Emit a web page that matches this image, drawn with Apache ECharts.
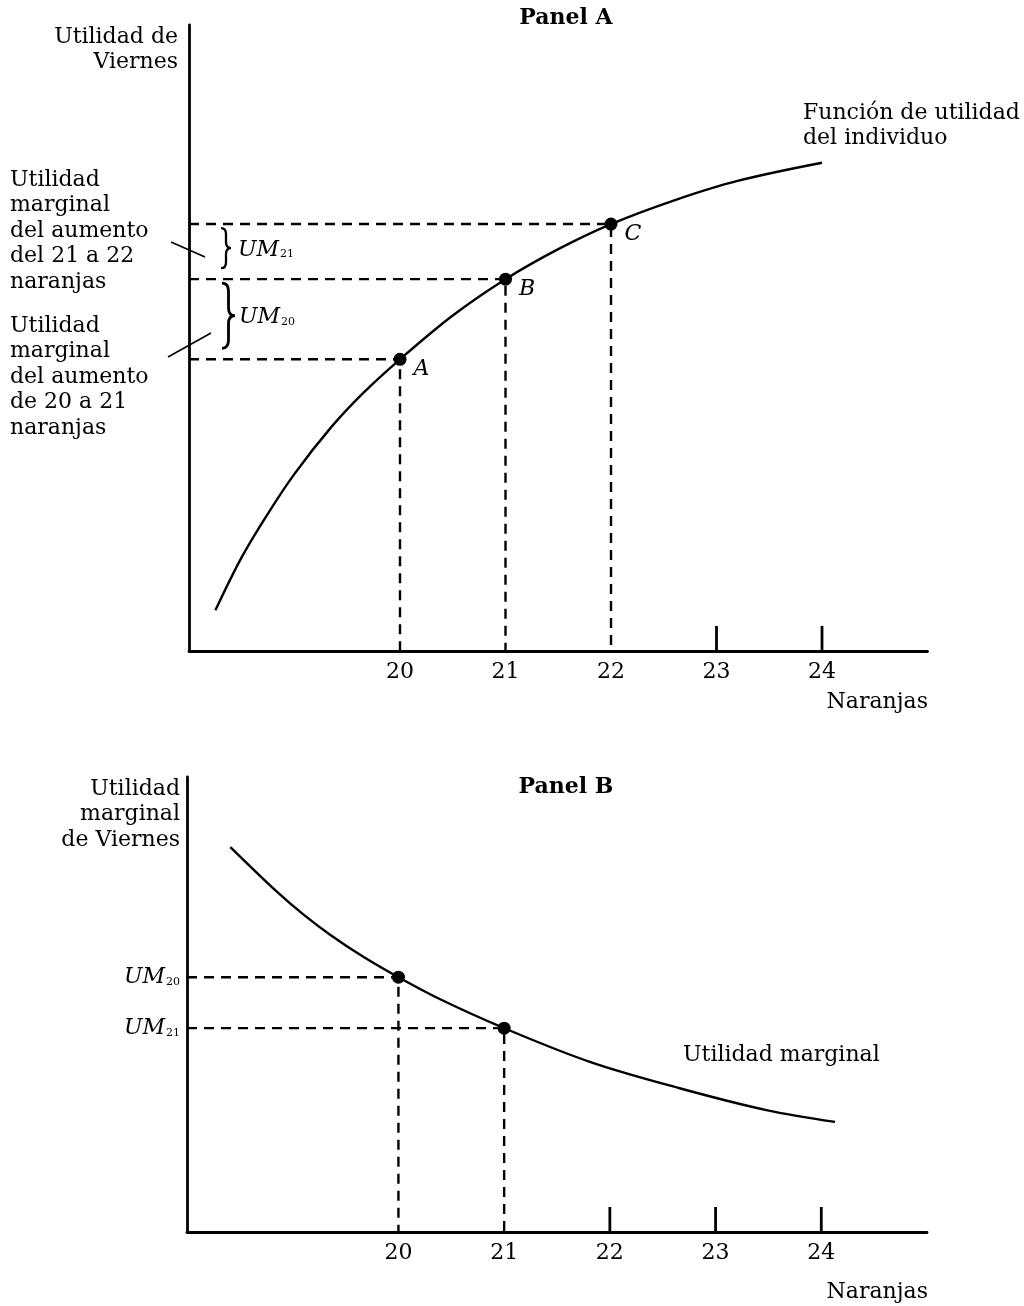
<!DOCTYPE html>
<html>
<head>
<meta charset="utf-8">
<script src="https://cdn.jsdelivr.net/npm/echarts@6/dist/echarts.min.js"></script>
<style>
html,body{margin:0;padding:0;background:#fff;}
#c{width:1024px;height:1306px;}
</style>
</head>
<body>
<div id="c"></div>
<script>
// ---- data ----
const tickLabels = ['20', '21', '22', '23', '24'];
const curveAX = [18.25, 18.5, 18.75, 19.0, 19.35, 19.65, 20, 20.5, 21, 21.5, 22, 22.6, 23.2, 24];
const curveAY = [6.5, 15.0, 22.0, 28.3, 35.8, 41.2, 46.6, 53.6, 59.4, 64.2, 68.2, 72.0, 75.1, 78.0];
const pointsAX = [20, 21, 22];
const pointsAY = [46.6, 59.4, 68.2];
const pointsANames = ['A', 'B', 'C'];
const solidTicksA = [23, 24];
const braceSubs = ['20', '21'];

const curveBX = [18.41, 18.85, 19.10, 19.35, 19.66, 20, 20.39, 21, 21.81, 22.66, 23.48, 24.13];
const curveBY = [42.3, 37.4, 34.9, 32.7, 30.3, 28.0, 25.6, 22.4, 18.7, 15.8, 13.4, 12.1];
const pointsBX = [20, 21];
const pointsBY = [28.0, 22.4];
const pointsBSubs = ['20', '21'];
const solidTicksB = [22, 23, 24];

// ---- styles ----
const FONT = '"DejaVu Serif", "Liberation Serif", serif';
const FS = 22;
const INK = '#000';

const chart = echarts.init(document.getElementById('c'), null, {renderer: 'canvas'});

function zip(xs, ys) { return xs.map((x, i) => [x, ys[i]]); }

function xAxisFor(gi) {
  return {
    type: 'value', gridIndex: gi, min: 18, max: 25, interval: 1,
    axisLine: {show: true, lineStyle: {color: INK, width: 2.8}},
    axisTick: {show: false}, splitLine: {show: false},
    axisLabel: {
      margin: 10, color: INK, fontFamily: FONT, fontSize: FS,
      formatter: v => tickLabels.indexOf(String(v)) >= 0 ? String(v) : ''
    }
  };
}
function yAxisFor(gi, max) {
  return {
    type: 'value', gridIndex: gi, min: 0, max: max,
    axisLine: {show: true, lineStyle: {color: INK, width: 2.8}},
    axisTick: {show: false}, splitLine: {show: false}, axisLabel: {show: false}
  };
}
function guideSeries(gi, x, y) {
  return {
    type: 'line', xAxisIndex: gi, yAxisIndex: gi, silent: true,
    data: [[18, y], [x, y], [x, 0]], showSymbol: false, animation: false,
    lineStyle: {color: INK, width: 2.4, type: [10, 7]}, z: 2
  };
}
function tickSeries(gi, vals) {
  return {
    type: 'custom', xAxisIndex: gi, yAxisIndex: gi, silent: true, animation: false,
    data: vals.map(v => [v, 0]),
    renderItem: (p, api) => {
      const pt = api.coord([api.value(0), 0]);
      return {type: 'line', shape: {x1: pt[0], y1: pt[1], x2: pt[0], y2: pt[1] - 25},
              style: {stroke: INK, lineWidth: 2.8}};
    }
  };
}
function bracePath(x, y1, y2, w) {
  const h = y2 - y1, m = (y1 + y2) / 2, hx = x + w * 0.5, c = Math.min(8, h * 0.15);
  return 'M' + x + ',' + y1 +
    ' Q' + hx + ',' + y1 + ' ' + hx + ',' + (y1 + c) +
    ' L' + hx + ',' + (m - c) +
    ' Q' + hx + ',' + m + ' ' + (x + w) + ',' + m +
    ' Q' + hx + ',' + m + ' ' + hx + ',' + (m + c) +
    ' L' + hx + ',' + (y2 - c) +
    ' Q' + hx + ',' + y2 + ' ' + x + ',' + y2;
}
const umRich = {
  a: {fontFamily: FONT, fontStyle: 'italic', fontSize: FS, fill: INK},
  b: {fontFamily: FONT, fontSize: 11, fill: INK, padding: [9, 0, 0, 1]}
};

const series = [];
pointsAX.forEach((x, i) => series.push(guideSeries(0, x, pointsAY[i])));
pointsBX.forEach((x, i) => series.push(guideSeries(1, x, pointsBY[i])));
series.push({
  type: 'line', xAxisIndex: 0, yAxisIndex: 0, data: zip(curveAX, curveAY), smooth: 0.35,
  showSymbol: false, animation: false, lineStyle: {color: INK, width: 2.4}, z: 3
});
series.push({
  type: 'line', xAxisIndex: 1, yAxisIndex: 1, data: zip(curveBX, curveBY), smooth: 0.35,
  showSymbol: false, animation: false, lineStyle: {color: INK, width: 2.4}, z: 3
});
series.push({
  type: 'scatter', xAxisIndex: 0, yAxisIndex: 0, symbolSize: 13, animation: false,
  itemStyle: {color: INK, opacity: 1}, z: 4,
  data: pointsAX.map((x, i) => ({value: [x, pointsAY[i]], name: pointsANames[i]})),
  label: {show: true, position: 'right', distance: 4, offset: [3, 10], formatter: p => p.name,
          fontFamily: FONT, fontStyle: 'italic', fontSize: FS, color: INK, opacity: 1}
});
series.push({
  type: 'scatter', xAxisIndex: 1, yAxisIndex: 1, symbolSize: 13, animation: false,
  itemStyle: {color: INK, opacity: 1}, z: 4, data: zip(pointsBX, pointsBY)
});
series.push(tickSeries(0, solidTicksA));
series.push(tickSeries(1, solidTicksB));
// braces with UM labels between successive utility levels (A-B and B-C)
series.push({
  type: 'custom', xAxisIndex: 0, yAxisIndex: 0, silent: true, animation: false, z: 5,
  data: braceSubs.map((s, i) => [pointsAY[i], pointsAY[i + 1], i]),
  renderItem: (p, api) => {
    const lo = api.coord([18, api.value(0)]);
    const hi = api.coord([18, api.value(1)]);
    const i = api.value(2);
    const big = (lo[1] - hi[1]) > 60;
    const x0 = lo[0] + (big ? 33 : 32);
    const w = big ? 13 : 10;
    const y1 = hi[1] + 4, y2 = lo[1] - 11;
    return {
      type: 'group',
      children: [
        {type: 'path', shape: {pathData: bracePath(x0, y1, y2, w)},
         style: {stroke: INK, lineWidth: big ? 2.8 : 2.3, fill: null}},
        {type: 'text', style: {
          text: '{a|UM}{b|' + braceSubs[i] + '}', x: x0 + 17, y: (y1 + y2) / 2 + 2,
          textAlign: 'left', textVerticalAlign: 'middle', rich: umRich
        }}
      ]
    };
  }
});

chart.setOption({
  backgroundColor: '#fff',
  animation: false,
  grid: [
    {left: 189, top: 25, width: 738.5, height: 626},
    {left: 187, top: 777, width: 740, height: 455}
  ],
  xAxis: [xAxisFor(0), xAxisFor(1)],
  yAxis: [yAxisFor(0, 100), yAxisFor(1, 50)],
  series: series
});

// ---- annotations ----
function txt(text, x, y, align, font) {
  return {
    type: 'text', z: 10, silent: true,
    style: {text: text, x: x, y: y, textAlign: align || 'left', textVerticalAlign: 'middle',
            font: font || (FS + 'px ' + FONT), fill: INK}
  };
}
function lines(arr, x, y0, lh, align) {
  return arr.map((t, i) => txt(t, x, y0 + i * lh, align));
}
function umText(sub, x, y, align) {
  return {
    type: 'text', z: 10, silent: true,
    style: {
      text: '{a|UM}{b|' + sub + '}', x: x, y: y, textAlign: align, textVerticalAlign: 'middle',
      rich: umRich
    }
  };
}

const pB = pointsBX.map((x, i) => chart.convertToPixel({gridIndex: 1}, [x, pointsBY[i]]));

const g = [];
const boldF = 'bold ' + FS + 'px ' + FONT;
g.push(txt('Panel A', 566, 18, 'center', boldF));
g.push(txt('Panel B', 566, 787, 'center', boldF));
g.push(...lines(['Utilidad de', 'Viernes'], 178, 37, 25.5, 'right'));
g.push(...lines(['Función de utilidad', 'del individuo'], 803, 113, 25.5, 'left'));
g.push(txt('Naranjas', 928, 702, 'right'));
g.push(txt('Naranjas', 928, 1292, 'right'));
g.push(...lines(['Utilidad', 'marginal', 'del aumento', 'del 21 a 22', 'naranjas'], 10, 180, 25.5, 'left'));
g.push(...lines(['Utilidad', 'marginal', 'del aumento', 'de 20 a 21', 'naranjas'], 10, 326, 25.5, 'left'));
g.push(...lines(['Utilidad', 'marginal', 'de Viernes'], 180, 789, 25.5, 'right'));
g.push(txt('Utilidad marginal', 683, 1055, 'left'));
// leader lines
g.push({type: 'line', silent: true, z: 10, shape: {x1: 171, y1: 242, x2: 205, y2: 257}, style: {stroke: INK, lineWidth: 1.6}});
g.push({type: 'line', silent: true, z: 10, shape: {x1: 168, y1: 357, x2: 211, y2: 333}, style: {stroke: INK, lineWidth: 1.6}});
g.push(umText(pointsBSubs[0], 180, pB[0][1], 'right'));
g.push(umText(pointsBSubs[1], 180, pB[1][1], 'right'));

chart.setOption({graphic: {elements: g}});
</script>
</body>
</html>
